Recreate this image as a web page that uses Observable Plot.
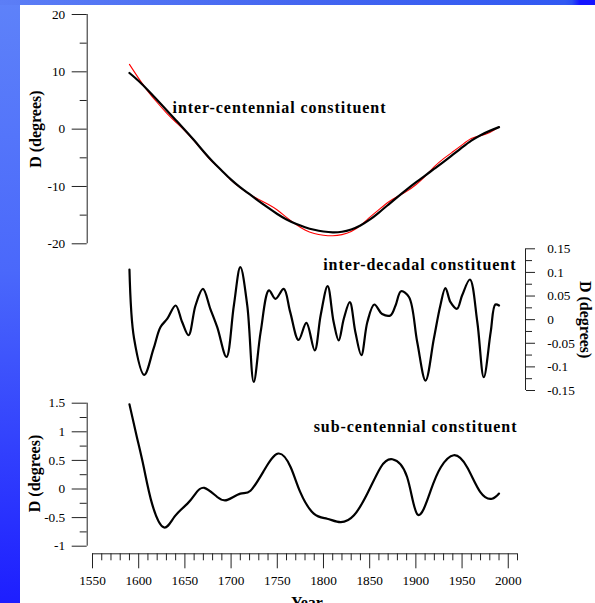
<!DOCTYPE html>
<html>
<head>
<meta charset="utf-8">
<script src="https://cdn.jsdelivr.net/npm/d3@7"></script>
<script src="https://cdn.jsdelivr.net/npm/@observablehq/plot@0.6"></script>
<style>
  html, body { margin: 0; padding: 0; background: #fff; }
  #page { position: relative; width: 595px; height: 603px; overflow: hidden; background: #fff; }
  #page svg { position: absolute; left: 0; }
  .band-left { position: absolute; left: 0; top: 0; width: 20px; height: 603px; z-index: 5;
    background: linear-gradient(to bottom, #5e82f9 0%, #4a68fb 45%, #1d1eff 100%); }
  .band-top { position: absolute; left: 0; top: 0; width: 595px; height: 5px; z-index: 5;
    background: linear-gradient(to right, #5c7ef6 0px, #4466f0 300px, #3159f2 565px, #2a4ff4 572px, #1414ff 580px); }
</style>
</head>
<body>
<div id="page">
  <div class="band-left"></div>
  <div class="band-top"></div>
</div>
<script>
// ---------- data ----------
const icYears = [1590,1600,1610,1620,1630,1640,1650,1660,1670,1680,1690,1700,1710,1720,1730,1740,1750,1760,1770,1780,
                 1790,1800,1810,1820,1830,1840,1850,1860,1870,1880,1890,1900,1910,1920,1930,1940,1950,1960,1970,1980,1990];
const icSmooth = [9.8,8.4,6.8,5.1,3.35,1.6,-0.15,-1.95,-3.85,-5.65,-7.25,-8.8,-10.15,-11.35,-12.55,-13.7,-14.8,-15.75,-16.5,-17.1,
                  -17.55,-17.85,-18.0,-17.9,-17.5,-16.8,-15.8,-14.55,-13.2,-11.85,-10.55,-9.3,-8.1,-6.9,-5.7,-4.45,-3.2,-2.0,-1.05,-0.3,0.35];
const icRaw = [11.3,8.85,6.6,4.65,2.85,1.25,-0.3,-2.05,-3.95,-5.75,-7.25,-8.9,-10.25,-11.35,-12.25,-13.1,-14.1,-15.4,-16.6,-17.6,
               -18.2,-18.5,-18.6,-18.4,-17.85,-16.8,-15.4,-14.05,-12.75,-11.75,-10.85,-9.7,-8.25,-6.55,-5.15,-3.95,-2.75,-1.65,-1.15,-0.6,0.35];

const idYears = [1590,1595,1606,1616,1623.5,1631,1640,1647,1654,1661.5,1669.5,1677.5,1685,1695,1703,1710,1717.5,1724.5,1732,1741,
                 1748,1757,1764,1773,1781.5,1790.5,1797,1804.5,1811,1816.5,1822,1828.5,1834.5,1841,1847.5,1855,1863.5,1872.5,1878,1884,
                 1892.5,1901.5,1910.5,1919.5,1926.5,1932,1937.5,1944.5,1950,1958.5,1966.5,1973.5,1981,1986,1990];
const idValues = [0.106,-0.04,-0.117,-0.062,-0.016,0.002,0.030,-0.005,-0.033,0.030,0.065,0.023,-0.016,-0.079,0.030,0.111,0.030,-0.132,-0.026,0.062,
                  0.044,0.065,0.016,-0.043,-0.007,-0.065,0.010,0.071,-0.005,-0.044,0.002,0.037,-0.026,-0.075,-0.005,0.032,0.012,0.009,0.030,0.060,
                  0.048,-0.048,-0.129,-0.040,0.030,0.067,0.037,0.023,0.051,0.085,-0.005,-0.122,-0.026,0.032,0.030];

const scYears = [1590,1598,1605.5,1614.5,1627,1639,1652.5,1661.5,1671,1685,1696,1710,1721,1735.5,1751,1764.5,1775,1789.5,1804,1818.5,
                 1833,1847.5,1862,1874.5,1890.5,1902,1916,1927,1941,1955.5,1970,1982.5,1990];
const scValues = [1.48,0.91,0.38,-0.26,-0.67,-0.48,-0.26,-0.08,0.02,-0.14,-0.19,-0.08,-0.03,0.32,0.62,0.38,-0.06,-0.43,-0.52,-0.58,
                  -0.46,-0.08,0.38,0.52,0.21,-0.45,-0.03,0.38,0.59,0.38,-0.06,-0.17,-0.08];

const icTicks = [-20,-10,0,10,20];
const icMinor = [-15,-5,5,15];
const idTicks = [-0.15,-0.1,-0.05,0,0.05,0.1,0.15];
const idMinor = [-0.125,-0.075,-0.025,0.025,0.075,0.125];
const scTicks = [-1,-0.5,0,0.5,1,1.5];
const scMinor = [-0.75,-0.25,0.25,0.75,1.25];
const yearTicks = [1550,1600,1650,1700,1750,1800,1850,1900,1950,2000];
const yearMinor = d3.range(1550, 2011, 10).filter(y => !yearTicks.includes(y));

const titles = ["inter-centennial constituent", "inter-decadal constituent", "sub-centennial constituent"];
const yLabel = "D (degrees)";
const xLabel = "Year";

// ---------- tables ----------
const icSmoothData = icYears.map((year, i) => ({year, v: icSmooth[i]}));
const icRawData = icYears.map((year, i) => ({year, v: icRaw[i]}));
const idData = idYears.map((year, i) => ({year, v: idValues[i]}));
const scData = scYears.map((year, i) => ({year, v: scValues[i]}));

const fmt = d => String(d);
const blank = () => "";
const serif = "'Liberation Serif', 'Times New Roman', serif";
const baseStyle = {background: "transparent", fontFamily: serif, fontSize: "13.3px", color: "#111", overflow: "hidden"};
const xScale = {domain: [1550, 2010], range: [92, 517]};
const bold = {fontWeight: "bold", fontSize: 16, fill: "#000"};

const page = document.getElementById("page");
function place(svg, top) {
  svg.style.top = top + "px";
  d3.select(svg).selectAll("text")
    .filter(function() { return /constituent/.test(this.textContent); })
    .style("letter-spacing", "0.95px");
  page.appendChild(svg);
}

// ---------- panel 1: inter-centennial ----------
const p1 = Plot.plot({
  width: 595, height: 250,
  marginLeft: 86.7, marginRight: 78, marginTop: 14, marginBottom: 6.7,
  style: baseStyle,
  x: {...xScale, axis: null},
  y: {domain: [-20, 20], range: [243.3, 14]},
  marks: [
    Plot.ruleX([1550], {y1: -20, y2: 20, dx: -5.3, stroke: "#222"}),
    Plot.axisY({ticks: icTicks, tickSize: 15, tickPadding: 7, tickFormat: fmt, label: null, stroke: "#222", fill: "#000"}),
    Plot.axisY({ticks: icMinor, tickSize: 7, tickFormat: blank, label: null, stroke: "#222"}),
    Plot.line(icRawData, {x: "year", y: "v", stroke: "#ff0000", strokeWidth: 1.1, curve: "natural"}),
    Plot.line(icSmoothData, {x: "year", y: "v", stroke: "#000", strokeWidth: 2.2, curve: "natural"}),
    Plot.text([titles[0]], {text: d => d, frameAnchor: "top-left", dx: 85.3, dy: 93.2, textAnchor: "start", lineAnchor: "middle", ...bold}),
    Plot.text([yLabel], {text: d => d, frameAnchor: "left", dx: -51.7, rotate: -90, textAnchor: "middle", lineAnchor: "middle", ...bold})
  ]
});
place(p1, 0);

// ---------- panel 2: inter-decadal ----------
const p2 = Plot.plot({
  width: 595, height: 160,
  marginLeft: 86.7, marginRight: 70, marginTop: 8.3, marginBottom: 10,
  style: baseStyle,
  x: {...xScale, axis: null},
  y: {domain: [-0.15, 0.15], range: [150, 8.3]},
  marks: [
    Plot.ruleX([2010], {y1: -0.15, y2: 0.15, dx: 8, stroke: "#222"}),
    Plot.axisY({anchor: "right", ticks: idTicks, tickSize: 9, tickPadding: 12.7, tickFormat: fmt, label: null, stroke: "#222", fill: "#000"}),
    Plot.axisY({anchor: "right", ticks: idMinor, tickSize: 6, tickFormat: blank, label: null, stroke: "#222"}),
    Plot.line(idData, {x: "year", y: "v", stroke: "#000", strokeWidth: 2.2, curve: "catmull-rom"}),
    Plot.text([titles[1]], {text: d => d, frameAnchor: "top-right", dx: -9, dy: 15.6, textAnchor: "end", lineAnchor: "middle", ...bold}),
    Plot.text([yLabel], {text: d => d, frameAnchor: "right", dx: 60, rotate: 90, textAnchor: "middle", lineAnchor: "middle", ...bold})
  ]
});
place(p2, 240);

// ---------- panel 3: sub-centennial ----------
const p3 = Plot.plot({
  width: 595, height: 213,
  marginLeft: 86.7, marginRight: 78, marginTop: 12.7, marginBottom: 49.7,
  style: baseStyle,
  x: xScale,
  y: {domain: [-1, 1.5], range: [155.7, 12.7]},
  marks: [
    Plot.ruleX([1550], {y1: -1, y2: 1.5, dx: -5.3, stroke: "#222"}),
    Plot.ruleY([-1], {x1: 1550, x2: 2010, dy: 7.6, stroke: "#222"}),
    Plot.axisY({ticks: scTicks, tickSize: 15, tickPadding: 7, tickFormat: fmt, label: null, stroke: "#222", fill: "#000"}),
    Plot.axisY({ticks: scMinor, tickSize: 7, tickFormat: blank, label: null, stroke: "#222"}),
    Plot.axisX({ticks: yearTicks, tickSize: 15, tickPadding: 7, tickFormat: fmt, label: null, stroke: "#222", fill: "#000"}),
    Plot.axisX({ticks: yearMinor, tickSize: 7, tickFormat: blank, label: null, stroke: "#222"}),
    Plot.line(scData, {x: "year", y: "v", stroke: "#000", strokeWidth: 2.2, curve: "natural"}),
    Plot.text([titles[2]], {text: d => d, frameAnchor: "top-right", dx: 0, dy: 23.9, textAnchor: "end", lineAnchor: "middle", ...bold}),
    Plot.text([yLabel], {text: d => d, frameAnchor: "left", dx: -52.7, dy: -5, rotate: -90, textAnchor: "middle", lineAnchor: "middle", ...bold}),
    Plot.text([xLabel], {text: d => d, frameAnchor: "bottom", dx: 4.6, dy: 49.2, textAnchor: "middle", lineAnchor: "middle", ...bold})
  ]
});
place(p3, 390);
</script>
</body>
</html>
